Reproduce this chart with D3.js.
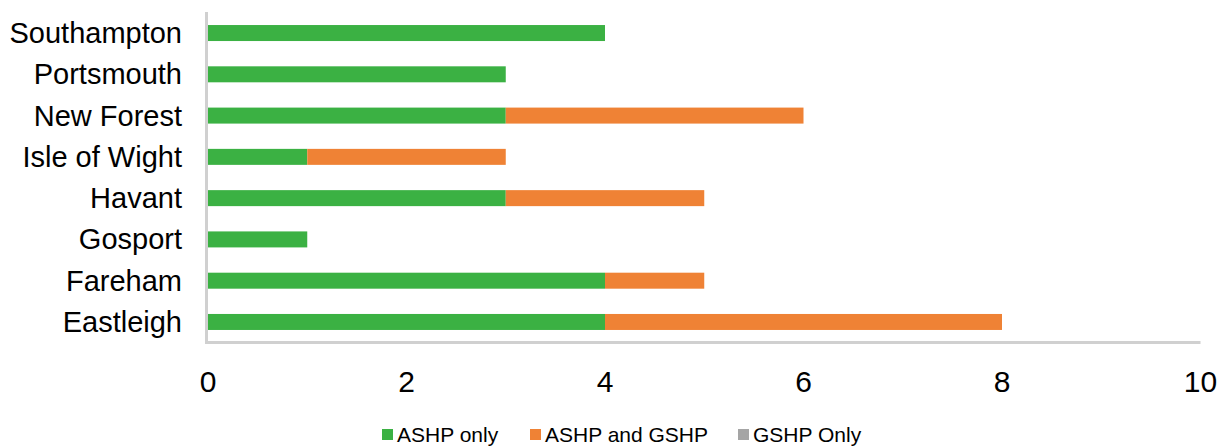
<!DOCTYPE html>
<meta charset="utf-8">
<style>
  body { margin: 0; background: #fff; }
  text { font-family: "Liberation Sans", Arial, sans-serif; fill: #000; }
</style>
<svg width="1222" height="446"></svg>
<script src="https://d3js.org/d3.v7.min.js"></script>
<script>

var areas = ["Southampton", "Portsmouth", "New Forest", "Isle of Wight", "Havant", "Gosport", "Fareham", "Eastleigh"];
var ashpOnly = [4, 3, 3, 1, 3, 1, 4, 4];
var ashpAndGshp = [0, 0, 3, 2, 2, 0, 1, 4];
var gshpOnly = [0, 0, 0, 0, 0, 0, 0, 0];
var seriesNames = ["ASHP only", "ASHP and GSHP", "GSHP Only"];
var colors = ["#3bb143", "#ef8235", "#a5a5a5"];
var xTicks = [0, 2, 4, 6, 8, 10];

var svg = d3.select("svg");

var x = d3.scaleLinear()
    .domain([0, 10])
    .range([208, 1200.5]);

var y = d3.scaleBand()
    .domain(areas)
    .range([12.4, 342.6])
    .paddingInner(0.6125)
    .paddingOuter(0.30625);

var rows = areas.map(function(d, i) {
  return {area: d, "ASHP only": ashpOnly[i], "ASHP and GSHP": ashpAndGshp[i], "GSHP Only": gshpOnly[i]};
});

var stacked = d3.stack().keys(seriesNames)(rows);

svg.selectAll("g.series")
  .data(stacked)
  .enter().append("g")
    .attr("class", "series")
    .attr("fill", function(d, i) { return colors[i]; })
  .selectAll("rect")
  .data(function(d) { return d; })
  .enter().append("rect")
    .attr("x", function(d) { return x(d[0]); })
    .attr("y", function(d) { return y(d.data.area); })
    .attr("width", function(d) { return x(d[1]) - x(d[0]); })
    .attr("height", y.bandwidth());

// axis lines
svg.append("line")
    .attr("x1", x(0) - 1.5).attr("x2", x(0) - 1.5)
    .attr("y1", 12).attr("y2", 344)
    .attr("stroke", "#d0d0d0").attr("stroke-width", 3);

svg.append("line")
    .attr("x1", x(0) - 3).attr("x2", x(10))
    .attr("y1", 342.5).attr("y2", 342.5)
    .attr("stroke", "#d0d0d0").attr("stroke-width", 3);

// category labels
svg.selectAll("text.cat")
  .data(areas)
  .enter().append("text")
    .attr("class", "cat")
    .attr("x", 182)
    .attr("y", function(d) { return y(d) + y.bandwidth() / 2 + 10; })
    .attr("text-anchor", "end")
    .style("font-size", "29px")
    .text(function(d) { return d; });

// x tick labels
svg.selectAll("text.tick")
  .data(xTicks)
  .enter().append("text")
    .attr("class", "tick")
    .attr("x", function(d) { return x(d); })
    .attr("y", 392)
    .attr("text-anchor", "middle")
    .style("font-size", "30px")
    .text(function(d) { return d; });

// legend
var legendX = [382, 530, 738];
var legend = svg.selectAll("g.legend")
  .data(seriesNames)
  .enter().append("g")
    .attr("class", "legend")
    .attr("transform", function(d, i) { return "translate(" + legendX[i] + ",0)"; });

legend.append("rect")
    .attr("x", 0).attr("y", 429)
    .attr("width", 11).attr("height", 11)
    .attr("fill", function(d, i) { return colors[i]; });

legend.append("text")
    .attr("x", 15)
    .attr("y", 442)
    .style("font-size", "21px")
    .text(function(d) { return d; });

</script>
